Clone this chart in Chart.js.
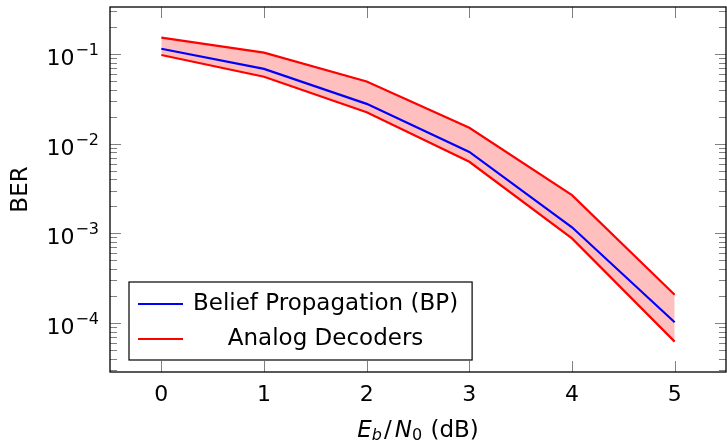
<!DOCTYPE html>
<html lang="en">
<head>
    <meta charset="UTF-8">
    <title>BER vs Eb/N0</title>
    <script src="https://cdn.jsdelivr.net/npm/chart.js"></script>
    <style>
        body {
            margin: 0;
            padding: 0;
            background: #fff;
        }
        .box {
            width: 727px;
            height: 443px;
        }
    </style>
</head>
<body>
    <div class="box">
        <canvas id="grafico" width="727" height="443"></canvas>
    </div>

    <script>
        // data
        const ebn0 = [0, 1, 2, 3, 4, 5];
        const berBP = [0.115, 0.0686, 0.0279, 0.0081, 0.00117, 0.000102];
        const analogUpper = [0.153, 0.104, 0.0495, 0.0151, 0.00267, 0.000207];
        const analogLower = [0.098, 0.056, 0.0225, 0.0063, 0.00088, 0.000062];
        const xTicks = [0, 1, 2, 3, 4, 5];
        const yDecades = [-1, -2, -3, -4];

        const FONT = '"DejaVu Sans", sans-serif';
        const FS = 23;   // legend / titles
        const TS = 22;   // tick labels

        function pts(ys) {
            return ebn0.map((x, i) => ({ x: x, y: ys[i] }));
        }

        // axes, ticks, labels and legend drawn by hand (pgfplots look)
        const axesPlugin = {
            id: 'axesPlugin',
            afterDraw(chart) {
                const ctx = chart.ctx;
                const a = chart.chartArea;
                const xs = chart.scales.x;
                const ys = chart.scales.y;
                ctx.save();

                // ticks
                ctx.strokeStyle = '#808080';
                ctx.lineWidth = 1;
                ctx.beginPath();
                xTicks.forEach(t => {
                    const px = Math.round(xs.getPixelForValue(t)) + 0.5;
                    ctx.moveTo(px, a.bottom); ctx.lineTo(px, a.bottom - 11);
                    ctx.moveTo(px, a.top); ctx.lineTo(px, a.top + 11);
                });
                for (let d = -5; d <= 0; d++) {
                    for (let m = 1; m <= 9; m++) {
                        const v = m * Math.pow(10, d);
                        if (v < ys.min || v > ys.max) continue;
                        const py = Math.round(ys.getPixelForValue(v)) + 0.5;
                        const len = m === 1 ? 11 : 7;
                        ctx.moveTo(a.left, py); ctx.lineTo(a.left + len, py);
                        ctx.moveTo(a.right, py); ctx.lineTo(a.right - len, py);
                    }
                }
                ctx.stroke();

                // frame
                ctx.strokeStyle = '#000';
                ctx.lineWidth = 1.3;
                ctx.strokeRect(a.left, a.top, a.right - a.left, a.bottom - a.top);

                ctx.fillStyle = '#000';
                // x tick labels
                ctx.font = TS + 'px ' + FONT;
                ctx.textAlign = 'center';
                ctx.textBaseline = 'alphabetic';
                xTicks.forEach(t => {
                    ctx.fillText(String(t), xs.getPixelForValue(t), a.bottom + 29);
                });

                // y tick labels 10^d
                yDecades.forEach(d => {
                    const py = ys.getPixelForValue(Math.pow(10, d));
                    const sup = '\u2212' + Math.abs(d);
                    ctx.font = '16px ' + FONT;
                    const wSup = ctx.measureText(sup).width;
                    ctx.textAlign = 'right';
                    const right = a.left - 11;
                    ctx.fillText(sup, right, py + 1);
                    ctx.font = TS + 'px ' + FONT;
                    ctx.fillText('10', right - wSup - 1, py + 11);
                });

                // y title
                ctx.save();
                ctx.translate(a.left - 83, (a.top + a.bottom) / 2);
                ctx.rotate(-Math.PI / 2);
                ctx.textAlign = 'center';
                ctx.font = FS + 'px ' + FONT;
                ctx.fillText('BER', 0, 0);
                ctx.restore();

                // x title: E_b/N_0 (dB)
                const parts = [
                    { t: 'E', f: 'italic ' + FS + 'px ' + FONT, dy: 0, gap: 0 },
                    { t: 'b', f: 'italic 16px ' + FONT, dy: 3, gap: 2 },
                    { t: '/', f: FS + 'px ' + FONT, dy: 0, gap: 3 },
                    { t: 'N', f: 'italic ' + FS + 'px ' + FONT, dy: 0, gap: 0 },
                    { t: '0', f: '16px ' + FONT, dy: 3, gap: 1 },
                    { t: ' (dB)', f: FS + 'px ' + FONT, dy: 0, gap: 0 }
                ];
                let total = 0;
                parts.forEach(p => { ctx.font = p.f; p.w = ctx.measureText(p.t).width; total += p.w + p.gap; });
                let cx = (a.left + a.right) / 2 - total / 2;
                const by = a.bottom + 65;
                ctx.textAlign = 'left';
                parts.forEach(p => {
                    ctx.font = p.f;
                    ctx.fillText(p.t, cx, by + p.dy);
                    cx += p.w + p.gap;
                });

                // legend
                const items = [
                    { label: 'Belief Propagation (BP)', color: '#0000ff' },
                    { label: 'Analog Decoders', color: '#ff0000' }
                ];
                ctx.font = FS + 'px ' + FONT;
                const maxW = Math.max(...items.map(i => ctx.measureText(i.label).width));
                const bl = a.left + 19;
                const bb = a.bottom - 12;
                const bt = bb - 78;
                const textX = bl + 64;
                const br = textX + maxW + 14;
                ctx.fillStyle = '#fff';
                ctx.fillRect(bl, bt, br - bl, bb - bt);
                ctx.strokeStyle = '#000';
                ctx.lineWidth = 1.2;
                ctx.strokeRect(bl, bt, br - bl, bb - bt);
                items.forEach((it, i) => {
                    const ry = bt + 22 + i * 35;
                    ctx.strokeStyle = it.color;
                    ctx.lineWidth = 2;
                    ctx.beginPath();
                    ctx.moveTo(bl + 9, ry); ctx.lineTo(bl + 54, ry);
                    ctx.stroke();
                    ctx.fillStyle = '#000';
                    ctx.textAlign = 'center';
                    ctx.textBaseline = 'middle';
                    ctx.fillText(it.label, textX + maxW / 2, ry);
                });

                ctx.restore();
            }
        };

        new Chart(document.getElementById('grafico'), {
            type: 'line',
            data: {
                datasets: [
                    {
                        label: 'Analog upper',
                        data: pts(analogUpper),
                        borderColor: '#ff0000',
                        backgroundColor: 'rgba(255, 0, 0, 0.25)',
                        borderWidth: 2.2,
                        pointRadius: 0,
                        fill: '+1',
                        order: 3
                    },
                    {
                        label: 'Analog lower',
                        data: pts(analogLower),
                        borderColor: '#ff0000',
                        borderWidth: 2.2,
                        pointRadius: 0,
                        fill: false,
                        order: 2
                    },
                    {
                        label: 'Belief Propagation (BP)',
                        data: pts(berBP),
                        borderColor: '#0000ff',
                        borderWidth: 2.2,
                        pointRadius: 0,
                        fill: false,
                        order: 1
                    }
                ]
            },
            options: {
                responsive: false,
                animation: false,
                events: [],
                layout: {
                    padding: { left: 110, top: 7, right: 1, bottom: 71 }
                },
                scales: {
                    x: { type: 'linear', min: -0.5, max: 5.5, display: false },
                    y: { type: 'logarithmic', min: 2.84e-5, max: 0.336, display: false }
                },
                plugins: {
                    legend: { display: false },
                    tooltip: { enabled: false }
                }
            },
            plugins: [axesPlugin]
        });
    </script>
</body>
</html>
